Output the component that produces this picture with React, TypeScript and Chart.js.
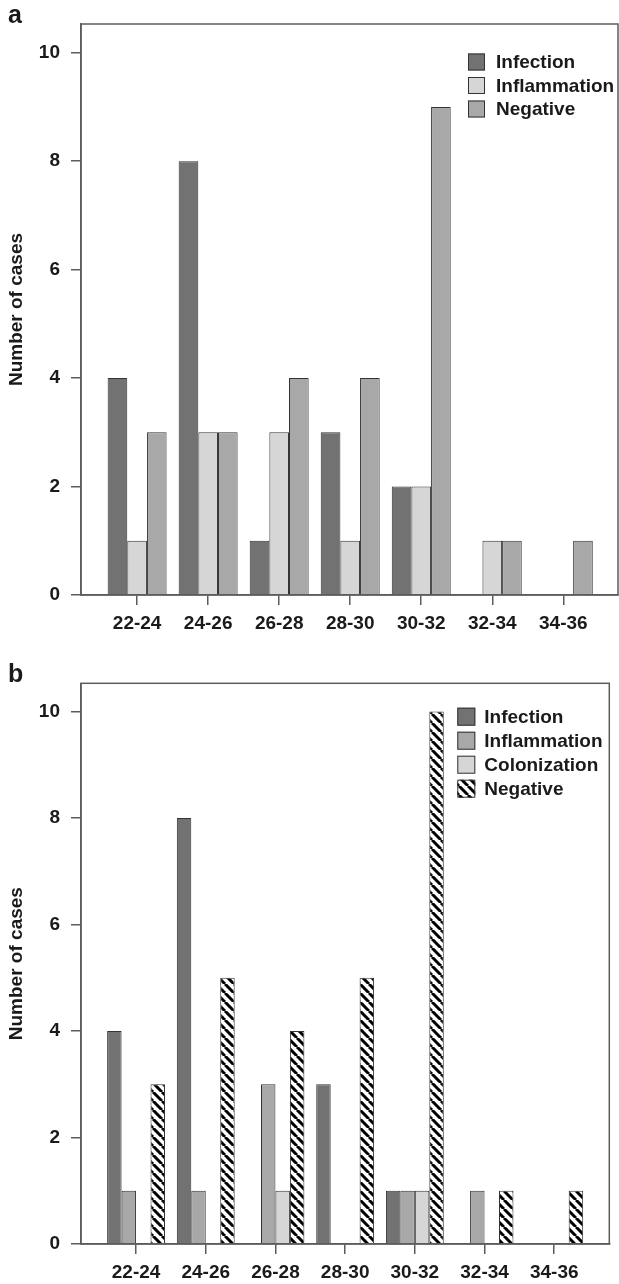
import React, { useEffect, useRef } from 'react';
import { Chart, registerables } from 'chart.js';

Chart.register(...registerables);

// ---------- data ----------
const ageGroups = ['22-24', '24-26', '26-28', '28-30', '30-32', '32-34', '34-36'];
const yTickValues = [0, 2, 4, 6, 8, 10];

const aLabels = ['Infection', 'Inflammation', 'Negative'];
const aInfection = [4, 8, 1, 3, 2, 0, 0];
const aInflammation = [1, 3, 3, 1, 2, 1, 0];
const aNegative = [3, 3, 4, 4, 9, 1, 1];

const bLabels = ['Infection', 'Inflammation', 'Colonization', 'Negative'];
const bInfection = [4, 8, 0, 3, 1, 0, 0];
const bInflammation = [1, 1, 3, 0, 1, 1, 0];
const bColonization = [0, 0, 1, 0, 1, 0, 0];
const bNegative = [3, 5, 4, 5, 10, 1, 1];

// ---------- styles ----------
const DARK = '#727272';
const MID = '#a8a8a8';
const LIGHT = '#d6d6d6';
const EDGE = '#333333';
const AXIS = '#5c5c5c';
const TEXT = '#1a1a1a';
const FAMILY = "'Liberation Sans', Arial, Helvetica, sans-serif";
const W = 619;
const H = 642;

function makeHatch(): CanvasPattern | string {
  const s = 9;
  const c = document.createElement('canvas');
  c.width = s;
  c.height = s;
  const g = c.getContext('2d');
  if (!g) return '#ffffff';
  g.fillStyle = '#ffffff';
  g.fillRect(0, 0, s, s);
  g.strokeStyle = '#000000';
  g.lineWidth = 3;
  g.beginPath();
  for (const k of [-s, 0, s]) {
    g.moveTo(k, 0);
    g.lineTo(k + s, s);
  }
  g.stroke();
  return g.createPattern(c, 'repeat') || '#ffffff';
}

type Spec = {
  letter: string;
  letterY: number;
  padTop: number;
  padRight: number;
  xAxisH: number;
  yMax: number;
  xMin: number;
  xMax: number;
  legendDx: number;
  legendRow0: number;
  legendGap: number;
  legendBox: number;
  legendTextDx: number;
  build: () => { label: string; values: number[]; color: any }[];
};

const specA: Spec = {
  letter: 'a',
  letterY: 23,
  padTop: 24,
  padRight: 1,
  xAxisH: 47,
  yMax: 10.53,
  xMin: -0.79,
  xMax: 6.77,
  legendDx: 150,
  legendRow0: 38,
  legendGap: 23.5,
  legendBox: 17,
  legendTextDx: 28,
  build: () => [
    { label: aLabels[0], values: aInfection, color: DARK },
    { label: aLabels[1], values: aInflammation, color: LIGHT },
    { label: aLabels[2], values: aNegative, color: MID },
  ],
};

const specB: Spec = {
  letter: 'b',
  letterY: 40,
  padTop: 41.3,
  padRight: 9.7,
  xAxisH: 40,
  yMax: 10.53,
  xMin: -0.79,
  xMax: 6.79,
  legendDx: 152,
  legendRow0: 33.4,
  legendGap: 24,
  legendBox: 18,
  legendTextDx: 27,
  build: () => [
    { label: bLabels[0], values: bInfection, color: DARK },
    { label: bLabels[1], values: bInflammation, color: MID },
    { label: bLabels[2], values: bColonization, color: LIGHT },
    { label: bLabels[3], values: bNegative, color: makeHatch() },
  ],
};

function buildConfig(spec: Spec): any {
  const series = spec.build();
  const tickFont = { family: FAMILY, size: 19, weight: 'bold' as const };

  const framePlugin = {
    id: 'frameAndLegend' + spec.letter,
    afterDraw(chart: any) {
      const { ctx, chartArea } = chart;
      const { left, top, right, bottom } = chartArea;
      ctx.save();
      ctx.strokeStyle = AXIS;
      ctx.lineWidth = 1.5;
      ctx.strokeRect(left, top, right - left, bottom - top);
      const bx = right - spec.legendDx;
      chart.data.datasets.forEach((ds: any, i: number) => {
        const cy = top + spec.legendRow0 + i * spec.legendGap;
        const bs = spec.legendBox;
        ctx.fillStyle = ds.backgroundColor;
        ctx.fillRect(bx, cy - bs / 2, bs, bs);
        ctx.strokeStyle = EDGE;
        ctx.lineWidth = 1;
        ctx.strokeRect(bx + 0.5, cy - bs / 2 + 0.5, bs - 1, bs - 1);
        ctx.fillStyle = TEXT;
        ctx.font = `bold 19px ${FAMILY}`;
        ctx.textAlign = 'left';
        ctx.textBaseline = 'middle';
        ctx.fillText(ds.label, bx + spec.legendTextDx, cy + 1);
      });
      ctx.fillStyle = TEXT;
      ctx.font = `bold 25px ${FAMILY}`;
      ctx.textAlign = 'left';
      ctx.textBaseline = 'alphabetic';
      ctx.fillText(spec.letter, 8, spec.letterY);
      ctx.restore();
    },
  };

  return {
    type: 'bar',
    data: {
      datasets: series.map((s) => ({
        label: s.label,
        data: s.values.map((v, i) => ({ x: i, y: v })),
        backgroundColor: s.color,
        borderColor: EDGE,
        borderWidth: 1,
        borderSkipped: 'bottom',
        categoryPercentage: 0.83,
        barPercentage: 1.0,
      })),
    },
    options: {
      responsive: false,
      animation: false,
      events: [],
      layout: { padding: { top: spec.padTop, right: spec.padRight, left: 0, bottom: 0 } },
      plugins: {
        legend: { display: false },
        tooltip: { enabled: false },
        title: { display: false },
      },
      scales: {
        x: {
          type: 'linear',
          min: spec.xMin,
          max: spec.xMax,
          offset: false,
          bounds: 'data',
          grid: {
            offset: false,
            drawOnChartArea: false,
            drawTicks: true,
            tickLength: 10,
            color: AXIS,
            lineWidth: 1.5,
          },
          border: { display: true, color: AXIS, width: 1.5 },
          afterBuildTicks: (scale: any) => {
            scale.ticks = ageGroups.map((_, i) => ({ value: i }));
          },
          afterFit: (scale: any) => {
            scale.height = spec.xAxisH;
          },
          ticks: {
            autoSkip: false,
            maxRotation: 0,
            padding: 7,
            color: TEXT,
            font: tickFont,
            callback: (v: any) => ageGroups[Math.round(Number(v))] ?? '',
          },
        },
        y: {
          type: 'linear',
          min: 0,
          max: spec.yMax,
          bounds: 'data',
          grid: {
            drawOnChartArea: false,
            drawTicks: true,
            tickLength: 10,
            color: AXIS,
            lineWidth: 1.5,
          },
          border: { display: true, color: AXIS, width: 1.5 },
          afterBuildTicks: (scale: any) => {
            scale.ticks = yTickValues.map((v) => ({ value: v }));
          },
          afterFit: (scale: any) => {
            scale.width = 81;
          },
          ticks: {
            padding: 11,
            color: TEXT,
            font: tickFont,
            callback: (v: any) => String(v),
          },
          title: {
            display: true,
            text: 'Number of cases',
            color: TEXT,
            font: { family: FAMILY, size: 19, weight: 'bold' },
            padding: { top: 5, bottom: 0 },
          },
        },
      },
    },
    plugins: [framePlugin],
  };
}

function Panel({ spec }: { spec: Spec }) {
  const ref = useRef<HTMLCanvasElement | null>(null);
  useEffect(() => {
    if (!ref.current) return;
    const chart = new Chart(ref.current, buildConfig(spec));
    return () => chart.destroy();
  }, [spec]);
  return (
    <canvas
      ref={ref}
      width={W}
      height={H}
      style={{ display: 'block', width: W, height: H }}
    />
  );
}

export default function App() {
  return (
    <div
      style={{
        position: 'absolute',
        left: 0,
        top: 0,
        width: W,
        height: H * 2,
        background: '#ffffff',
      }}
    >
      <Panel spec={specA} />
      <Panel spec={specB} />
    </div>
  );
}
